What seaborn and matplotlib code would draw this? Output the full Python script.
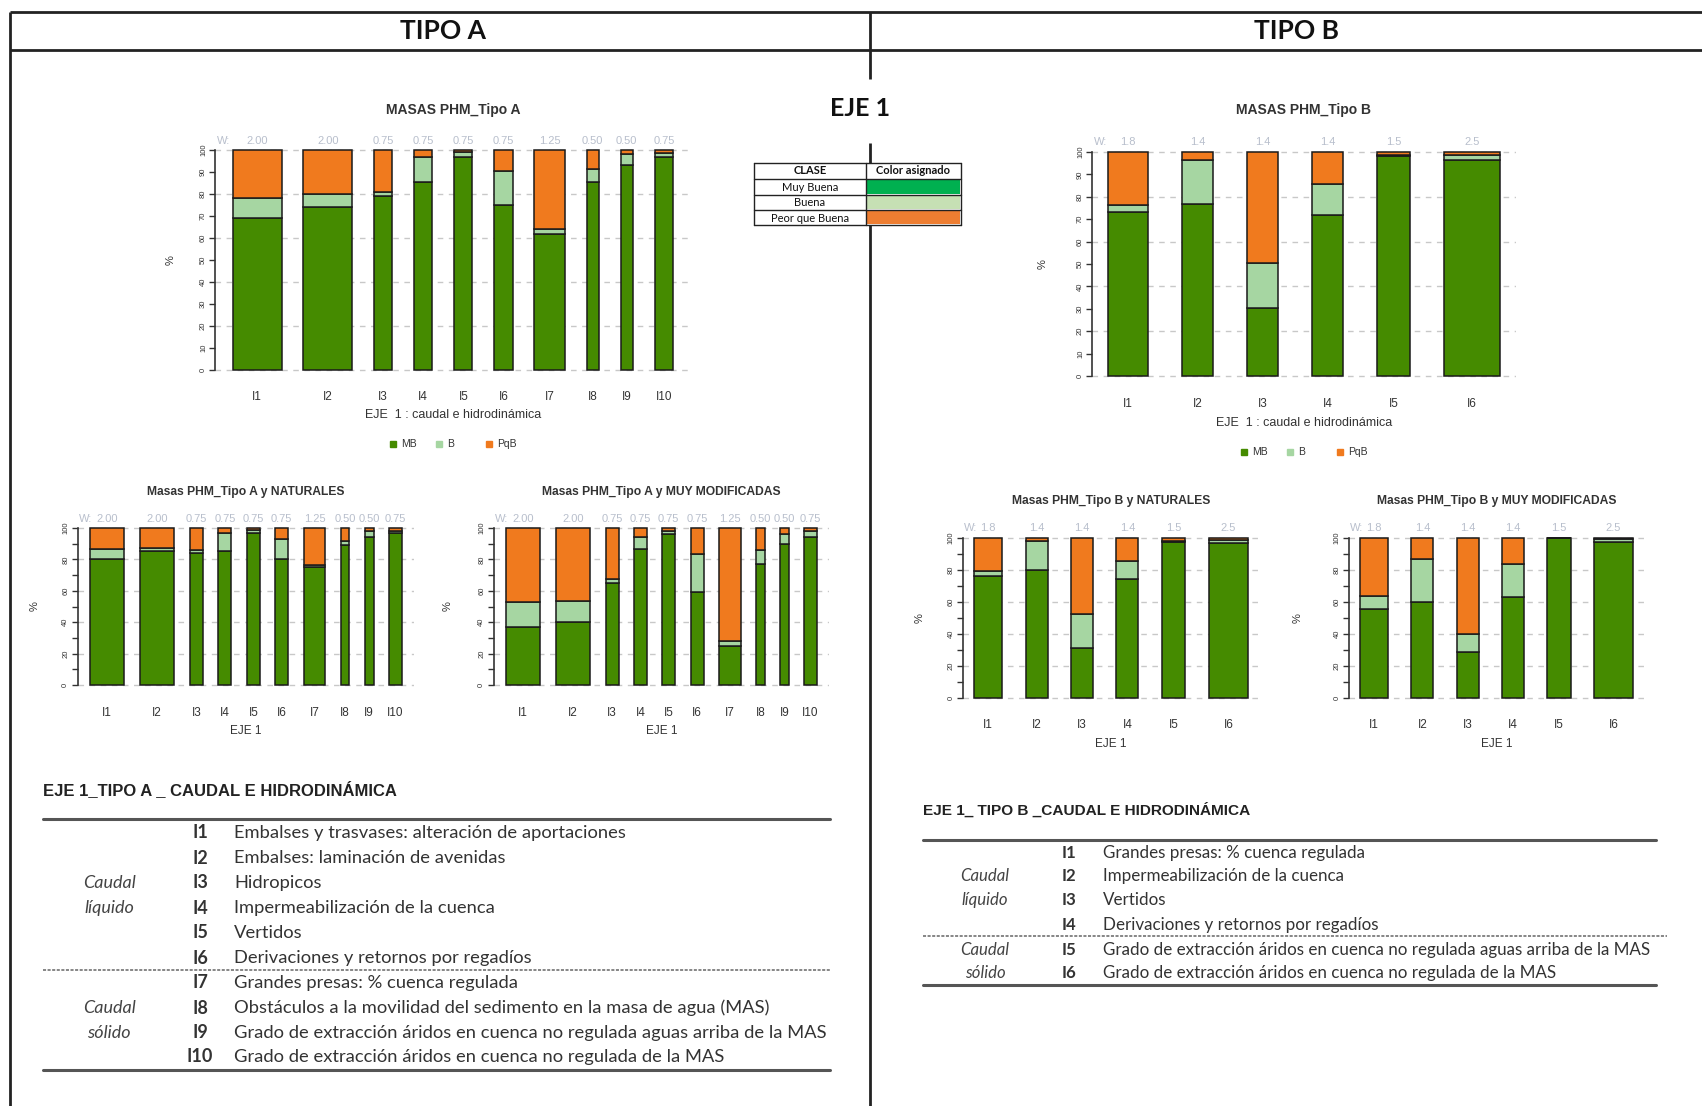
import numpy as np
import pandas as pd
import matplotlib
matplotlib.use("Agg")
import matplotlib.pyplot as plt
import seaborn as sns
from matplotlib import font_manager as fm
from matplotlib.patches import Rectangle
from matplotlib.transforms import blended_transform_factory

# ---------------- data ----------------
ind_a = ["I1", "I2", "I3", "I4", "I5", "I6", "I7", "I8", "I9", "I10"]
w_a = [2.00, 2.00, 0.75, 0.75, 0.75, 0.75, 1.25, 0.50, 0.50, 0.75]
w_a_txt = ["2.00", "2.00", "0.75", "0.75", "0.75", "0.75", "1.25", "0.50", "0.50", "0.75"]

a_all_mb = [69, 74, 79, 85.5, 97, 75, 62, 85.5, 93, 97]
a_all_b = [9, 6, 2, 11.5, 2, 15.5, 2, 6, 5, 1.5]
a_all_pqb = [22, 20, 19, 3, 1, 9.5, 36, 8.5, 2, 1.5]

a_nat_mb = [80.5, 85.5, 84, 85.5, 97, 80.5, 75, 89, 94.5, 96.5]
a_nat_b = [6, 2, 2, 11, 1.5, 12.5, 1.5, 3, 3.5, 1.5]
a_nat_pqb = [13.5, 12.5, 14, 3.5, 1.5, 7, 23.5, 8, 2, 2]

a_mm_mb = [37, 40, 65, 86.5, 96, 59, 25, 77, 90, 94.5]
a_mm_b = [16, 13.5, 2.5, 8, 2, 24.5, 3, 9, 6, 3.5]
a_mm_pqb = [47, 46.5, 32.5, 5.5, 2, 16.5, 72, 14, 4, 2]

ind_b = ["I1", "I2", "I3", "I4", "I5", "I6"]
w_b = [1.8, 1.4, 1.4, 1.4, 1.5, 2.5]
w_b_txt = ["1.8", "1.4", "1.4", "1.4", "1.5", "2.5"]

b_all_mb = [73, 77, 30.5, 72, 98, 96.5]
b_all_b = [3.5, 19.5, 20, 13.5, 0.5, 2]
b_all_pqb = [23.5, 3.5, 49.5, 14.5, 1.5, 1.5]

b_nat_mb = [76, 80, 31, 74.5, 97.5, 97]
b_nat_b = [3.5, 18, 21.5, 11, 0.5, 1.5]
b_nat_pqb = [20.5, 2, 47.5, 14.5, 2, 1.5]

b_mm_mb = [55.5, 60, 29, 63, 100, 97.5]
b_mm_b = [8.5, 27, 11, 21, 0, 2]
b_mm_pqb = [36, 13, 60, 16, 0, 0.5]

clases = ["MB", "B", "PqB"]
clase_nombres = ["Muy Buena", "Buena", "Peor que Buena"]

tipo_a_desc = [
    "Embalses y trasvases: alteración de aportaciones",
    "Embalses: laminación de avenidas",
    "Hidropicos",
    "Impermeabilización de la cuenca",
    "Vertidos",
    "Derivaciones y retornos por regadíos",
    "Grandes presas: % cuenca regulada",
    "Obstáculos a la movilidad del sedimento en la masa de agua (MAS)",
    "Grado de extracción áridos en cuenca no regulada aguas arriba de la MAS",
    "Grado de extracción áridos en cuenca no regulada de la MAS",
]
tipo_b_desc = [
    "Grandes presas: % cuenca regulada",
    "Impermeabilización de la cuenca",
    "Vertidos",
    "Derivaciones y retornos por regadíos",
    "Grado de extracción áridos en cuenca no regulada aguas arriba de la MAS",
    "Grado de extracción áridos en cuenca no regulada de la MAS",
]

# ---------------- style ----------------
sns.set_theme(style="white")
avail = {f.name for f in fm.fontManager.ttflist}


def first_font(*names):
    for n in names:
        if n in avail:
            return n
    return "DejaVu Sans"


NARROW = first_font("Liberation Sans Narrow", "Liberation Sans", "DejaVu Sans")
BODY = first_font("Lato", "Open Sans", "Noto Sans", "DejaVu Sans")
plt.rcParams["font.family"] = [NARROW, "DejaVu Sans"]

BAR_COLORS = sns.color_palette(["#458B00", "#A6D6A2", "#F07A1E"])
TABLE_COLORS = ["#00B050", "#C6E0B4", "#ED7D31"]
W_COLOR = "#b8bfcc"

FW, FH = 1702, 1106
fig = plt.figure(figsize=(FW / 100, FH / 100), dpi=100)
fig.patch.set_facecolor("white")

# page layer in pixel coordinates (y grows downward)
page = fig.add_axes([0, 0, 1, 1])
page.set_xlim(0, FW)
page.set_ylim(FH, 0)
page.axis("off")


def frame(mb, b, pqb, cats, widths):
    return pd.DataFrame({"ind": cats, "w": widths, "MB": mb, "B": b, "PqB": pqb})


def draw_panel(df, w_txt, bars_px, title, title_fs, title_y, w_y, cat_y,
               xlabel, xlabel_y, pct_x, label_step, legend_y=None):
    x_left, x_right, y100, y0 = bars_px
    w = df["w"].to_numpy(dtype=float)
    n = len(w)
    gap = 0.9 * w.mean()
    lefts = gap * np.arange(1, n + 1) + np.concatenate([[0.0], np.cumsum(w)[:-1]])
    centers = lefts + w / 2
    lo, hi = lefts[0], lefts[-1] + w[-1]
    sx = 0.04 * (hi - lo)
    spx = 0.04 * (x_right - x_left)
    spy = 0.04 * (y0 - y100)
    L, R, T, B = x_left - spx, x_right + spx, y100 - spy, y0 + spy
    ax = fig.add_axes([L / FW, 1 - B / FH, (R - L) / FW, (B - T) / FH])
    ax.set_xlim(lo - sx, hi + sx)
    ax.set_ylim(-4, 104)
    ax.patch.set_alpha(0)

    for yv in range(0, 101, 20):
        ax.axhline(yv, color="#c8c8c8", lw=1.0, ls=(0, (4, 4)), zorder=0)

    bottom = np.zeros(n)
    for cls, col in zip(clases, BAR_COLORS):
        vals = df[cls].to_numpy(dtype=float)
        ax.bar(centers, vals, width=w, bottom=bottom, color=col,
               edgecolor="#1a1a1a", linewidth=1.1, zorder=2)
        bottom += vals

    sns.despine(ax=ax, bottom=True)
    ax.spines["left"].set_bounds(0, 100)
    ax.spines["left"].set_color("#333333")
    ax.spines["left"].set_linewidth(1.2)

    ax.set_yticks(range(0, 101, label_step))
    ax.set_yticks(range(0, 101, 10), minor=True)
    ax.tick_params(axis="y", which="both", length=4, width=1, color="#333333",
                   left=True, labelsize=5.5, labelcolor="#333333", pad=2)
    for lab in ax.get_yticklabels():
        lab.set_rotation(90)
        lab.set_va("center")

    def ay(py):
        return (B - py) / (B - T)

    cat_fs = 8.5
    pad_pt = (cat_y - 0.57 * cat_fs * 1.389 - B) * 0.72
    ax.set_xticks(centers, df["ind"])
    ax.tick_params(axis="x", length=0, labelsize=cat_fs, labelcolor="#333333", pad=pad_pt)

    blend = blended_transform_factory(ax.transData, ax.transAxes)
    ax.text(0.004, ay(w_y), "W:", transform=ax.transAxes, ha="left", va="center",
            fontsize=8, color=W_COLOR)
    for c, t in zip(centers, w_txt):
        ax.text(c, ay(w_y), t, transform=blend, ha="center", va="center",
                fontsize=8, color=W_COLOR)
    mid = (lo + hi) / 2
    ax.text(mid, ay(title_y), title, transform=blend, ha="center", va="center",
            fontsize=title_fs, fontweight="bold", color="#333333")
    ax.text(mid, ay(xlabel_y), xlabel, transform=blend, ha="center", va="center",
            fontsize=9 if legend_y else 8.5, color="#333333")
    ax.text((pct_x - L) / (R - L), 0.5, "%", transform=ax.transAxes, rotation=90,
            ha="center", va="center", fontsize=8, color="#333333")

    if legend_y is not None:
        cx = (x_left + x_right) / 2
        for off, lab, col in zip([-60, -14, 36], clases, BAR_COLORS):
            page.plot([cx + off], [legend_y], marker="s", ms=4.5, color=col, ls="")
            page.text(cx + off + 8, legend_y, lab, ha="left", va="center",
                      fontsize=7.5, color="#333333")
    return ax


# ---------------- charts ----------------
draw_panel(frame(a_all_mb, a_all_b, a_all_pqb, ind_a, w_a), w_a_txt,
           (233, 673, 150, 370), "MASAS PHM_Tipo A", 10, 110, 141, 398,
           "EJE  1 : caudal e hidrodinámica", 415, 171, 10, legend_y=444)
draw_panel(frame(b_all_mb, b_all_b, b_all_pqb, ind_b, w_b), w_b_txt,
           (1108, 1500, 152, 376), "MASAS PHM_Tipo B", 10, 110, 142, 405,
           "EJE  1 : caudal e hidrodinámica", 423, 1043, 10, legend_y=452)
draw_panel(frame(a_nat_mb, a_nat_b, a_nat_pqb, ind_a, w_a), w_a_txt,
           (90, 402, 528, 685), "Masas PHM_Tipo A y NATURALES", 8.7, 492, 519, 714,
           "EJE 1", 731, 35, 20)
draw_panel(frame(a_mm_mb, a_mm_b, a_mm_pqb, ind_a, w_a), w_a_txt,
           (506, 817, 528, 685), "Masas PHM_Tipo A y MUY MODIFICADAS", 8.7, 492, 519, 714,
           "EJE 1", 731, 448, 20)
draw_panel(frame(b_nat_mb, b_nat_b, b_nat_pqb, ind_b, w_b), w_b_txt,
           (974, 1248, 538, 698), "Masas PHM_Tipo B y NATURALES", 8.7, 501, 528, 726,
           "EJE 1", 744, 920, 20)
draw_panel(frame(b_mm_mb, b_mm_b, b_mm_pqb, ind_b, w_b), w_b_txt,
           (1360, 1633, 538, 698), "Masas PHM_Tipo B y MUY MODIFICADAS", 8.7, 501, 528, 726,
           "EJE 1", 744, 1298, 20)

# ---------------- page frame and headers ----------------
LINE = dict(color="#222222", lw=2.0, solid_capstyle="butt")
page.plot([10, FW], [12, 12], **LINE)
page.plot([10, FW], [50, 50], **LINE)
page.plot([10, 10], [12, FH], **LINE)
for y_a, y_b in [(12, 79), (143, 163), (225, FH)]:
    page.plot([870, 870], [y_a, y_b], **LINE)

page.text(443, 31, "TIPO A", ha="center", va="center", fontsize=19,
          fontweight="bold", family=BODY, color="#111111")
page.text(1297, 31, "TIPO B", ha="center", va="center", fontsize=19,
          fontweight="bold", family=BODY, color="#111111")
page.text(860, 109, "EJE 1", ha="center", va="center", fontsize=18,
          fontweight="bold", family=BODY, color="#111111")

# colour key table
tx0, tx1, tx2 = 754, 866, 961
ty = [163, 179, 195, 210, 225]
page.text((tx0 + tx1) / 2, (ty[0] + ty[1]) / 2, "CLASE", ha="center", va="center",
          fontsize=8, fontweight="bold", family=BODY, color="#111111")
page.text((tx1 + tx2) / 2, (ty[0] + ty[1]) / 2, "Color asignado", ha="center",
          va="center", fontsize=8, fontweight="bold", family=BODY, color="#111111")
for i, (nombre, col) in enumerate(zip(clase_nombres, TABLE_COLORS)):
    ya, yb = ty[i + 1], ty[i + 2]
    page.add_patch(Rectangle((tx1 + 1, ya + 1), tx2 - tx1 - 2, yb - ya - 2,
                             facecolor=col, edgecolor="none"))
    page.text((tx0 + tx1) / 2, (ya + yb) / 2 + 0.5, nombre, ha="center", va="center",
              fontsize=8, family=BODY, color="#111111")
for y in ty:
    page.plot([tx0, tx2], [y, y], color="#222222", lw=1)
for x in (tx0, tx1, tx2):
    page.plot([x, x], [ty[0], ty[-1]], color="#222222", lw=1)


# ---------------- indicator tables ----------------
def indicator_table(x_left, x_right, head_y, head, rule_y, rows_y, dash_y, bottom_y,
                    code_x, desc_x, group_x, groups, desc, scale=1.0, dash_right=None):
    page.text(x_left, head_y, head, ha="left", va="center", fontsize=12 * scale,
              fontweight="bold", color="#222222")
    page.plot([x_left, x_right], [rule_y, rule_y], color="#555555", lw=2.2)
    page.plot([x_left, x_right], [bottom_y, bottom_y], color="#555555", lw=2.2)
    page.plot([x_left, dash_right or x_right], [dash_y, dash_y], color="#666666",
              lw=1.1, ls=(0, (2, 1)))
    for i, (y, d) in enumerate(zip(rows_y, desc)):
        page.text(code_x, y, f"I{i + 1}", ha="center", va="center", fontsize=13 * scale,
                  fontweight="bold", family=BODY, color="#333333")
        page.text(desc_x, y, d, ha="left", va="center", fontsize=13.2 * scale,
                  family=BODY, color="#333333")
    for gy, gt in groups:
        page.text(group_x, gy, gt, ha="center", va="center", fontsize=13 * scale,
                  style="italic", family=BODY, color="#444444")


indicator_table(43, 830, 790, "EJE 1_TIPO A _ CAUDAL E HIDRODINÁMICA", 819,
                [833, 858, 883, 908, 933, 958, 983, 1008, 1033, 1057], 970, 1070,
                200, 234, 109,
                [(883, "Caudal"), (908, "líquido"), (1008, "Caudal"), (1033, "sólido")],
                tipo_a_desc)
indicator_table(923, 1656, 810, "EJE 1_ TIPO B _CAUDAL E HIDRODINÁMICA", 840,
                [853, 876, 900, 925, 950, 973], 936, 985,
                1069, 1103, 985,
                [(876, "Caudal"), (900, "líquido"), (950, "Caudal"), (973, "sólido")],
                tipo_b_desc, scale=0.925, dash_right=1667)

fig.savefig("out.png", dpi=100, facecolor="white")
